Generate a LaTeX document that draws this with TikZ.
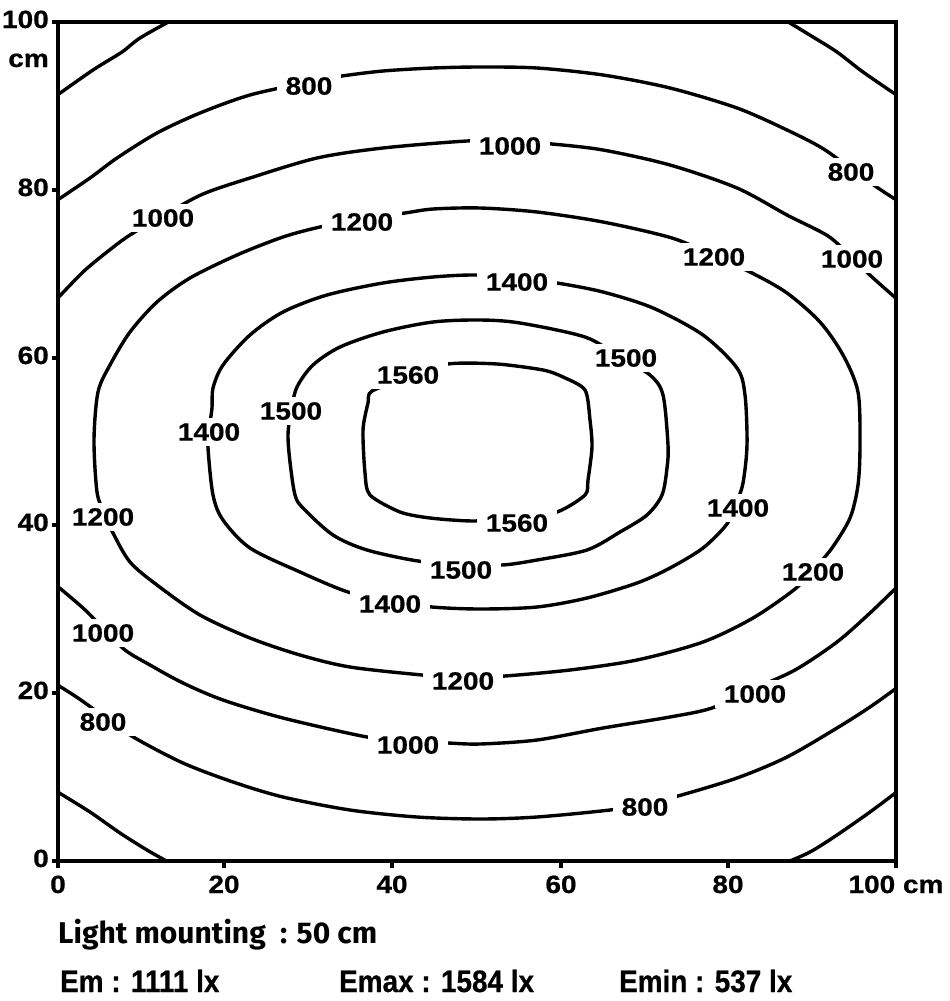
\documentclass[tikz,border=0pt]{standalone}
\usepackage{fontspec}
\newfontfamily\labfont{Liberation Sans}[BoldFeatures={FakeBold=0.6}]
\newfontfamily\lmfont{Fira Sans}
\begin{document}
\begin{tikzpicture}[x=1pt,y=-1pt,
  contour/.style={line width=3.4pt, line join=round, line cap=round},
  frameline/.style={line width=3.8pt},
  clab/.style={font=\labfont\bfseries\fontsize{25}{30}\selectfont, fill=white, inner xsep=8pt, inner ysep=5pt, xscale=1.12},
  ticklab/.style={font=\labfont\bfseries\fontsize{25}{30}\selectfont, inner sep=0pt, xscale=1.12},
  infolab/.style={font=\labfont\bfseries\fontsize{31}{36}\selectfont, inner sep=0pt, anchor=base west, xscale=0.9},
  lmlab/.style={font=\lmfont\bfseries\fontsize{30}{36}\selectfont, inner sep=0pt, anchor=base west}
]
\useasboundingbox (0,0) rectangle (950,1001);
\fill[white] (0,0) rectangle (950,1001);

\begin{scope}
\clip (58,22) rectangle (896,861);
% top corners
\draw[contour] plot[smooth, tension=0.5] coordinates {(56,96) (93,70) (122,52) (140,38) (172,20)};
\draw[contour] plot[smooth, tension=0.5] coordinates {(785,20) (813,37) (837,52) (863,72) (898,96)};
% 800 top
\draw[contour] plot[smooth, tension=0.5] coordinates {(56,201) (90,178) (117,158) (157,133) (200,113) (250,95) (309,82) (342,76) (383,71) (433,68) (480,67) (537,68) (603,75) (670,88) (737,108) (787,130) (822,148) (850,168) (878,188) (898,201)};
% 1000 top
\draw[contour] plot[smooth, tension=0.5] coordinates {(56,300) (83,272) (107,252) (130,235) (166,214) (203,194) (250,178) (317,158) (383,148) (467,141) (510,141) (552,144) (603,150) (670,165) (737,188) (787,215) (828,236) (850,256) (872,277) (898,300)};
% 1000 bottom
\draw[contour] plot[smooth, tension=0.5] coordinates {(56,585) (83,608) (103,628) (125,650) (150,665) (183,683) (223,700) (283,718) (367,737) (408,741) (448,743) (480,744) (537,740) (603,728) (670,717) (712,708) (753,689) (795,670) (837,642) (870,613) (898,586)};
% 800 bottom
\draw[contour] plot[smooth, tension=0.5] coordinates {(56,684) (78,698) (106,718) (135,738) (183,763) (233,782) (283,797) (350,810) (417,817) (480,819) (537,817) (610,810) (645,804) (678,796) (737,778) (787,757) (837,728) (870,707) (898,687)};
% bottom corners
\draw[contour] plot[smooth, tension=0.5] coordinates {(56,791) (90,812) (120,833) (147,850) (170,863)};
\draw[contour] plot[smooth, tension=0.5] coordinates {(898,791) (870,812) (837,835) (810,852) (785,863)};
\end{scope}

% 1200 loop
\draw[contour] plot[smooth cycle, tension=0.5] coordinates {(94,440) (98,392) (110,365) (130,332) (157,302) (190,278) (237,255) (283,237) (320,227) (362,219) (405,213) (433,209) (480,208) (537,212) (603,222) (672,238) (712,255) (752,273) (787,293) (820,322) (843,355) (858,392) (860,445) (858,485) (850,518) (832,548) (814,569) (795,589) (753,618) (703,642) (637,660) (570,670) (505,676) (463,678) (422,675) (350,667) (300,655) (250,638) (200,615) (157,585) (130,562) (113,533) (104,512) (97,492)};
% 1400 loop
\draw[contour] plot[smooth cycle, tension=0.5] coordinates {(213,495) (208,448) (209,430) (212,408) (213,388) (223,365) (250,335) (283,312) (327,295) (383,283) (433,277) (475,275) (517,278) (557,283) (603,292) (653,308) (703,335) (737,368) (745,395) (747,445) (743,483) (736,504) (727,524) (703,548) (670,568) (637,583) (587,598) (537,607) (480,609) (432,607) (390,601) (348,592) (300,572) (250,548) (223,520)};
% 1500 loop
\draw[contour] plot[smooth cycle, tension=0.5] coordinates {(297,387) (313,365) (340,347) (383,332) (433,322) (480,320) (520,323) (585,337) (618,356) (650,375) (663,395) (668,445) (667,468) (662,495) (647,515) (620,532) (587,550) (537,560) (502,565) (460,564) (418,561) (367,550) (333,535) (303,508) (295,495) (290,462) (288,435) (291,411)};
% 1560 loop
\draw[contour] plot[smooth cycle, tension=0.45] coordinates {(372,391) (368,403) (363,430) (365,473) (370,495) (400,512) (430,518) (473,521) (515,518) (557,512) (585,495) (588,480) (592,447) (590,420) (585,390) (563,377) (543,370) (497,364) (448,364) (410,377)};

% contour labels
\node[clab] (l800a) at (309,86) {800};
\node[clab] (l800b) at (851,172) {800};
\node[clab] (l1000a) at (163,218) {1000};
\node[clab] (l1000b) at (510,146) {1000};
\node[clab] (l1000c) at (852,259) {1000};
\node[clab] (l1200a) at (362,222) {1200};
\node[clab] (l1200b) at (714,257) {1200};
\node[clab] (l1200c) at (103,517) {1200};
\node[clab] (l1200d) at (463,681) {1200};
\node[clab] (l1200e) at (813,572) {1200};
\node[clab] (l1400a) at (517,282) {1400};
\node[clab] (l1400b) at (209,432) {1400};
\node[clab] (l1400c) at (738,508) {1400};
\node[clab] (l1400d) at (390,604) {1400};
\node[clab] (l1500a) at (626,358) {1500};
\node[clab] (l1500b) at (291,411) {1500};
\node[clab] (l1500c) at (461,570) {1500};
\node[clab] (l1560a) at (408,375) {1560};
\node[clab] (l1560b) at (517,523) {1560};
\node[clab] (l1000d) at (103,633) {1000};
\node[clab] (l1000e) at (408,745) {1000};
\node[clab] (l1000f) at (755,694) {1000};
\node[clab] (l800c) at (103,722) {800};
\node[clab] (l800d) at (645,807) {800};

% frame
\draw[frameline] (58,22) rectangle (896,861);
% ticks
\foreach \yy in {22,190,358,525,693,861} \draw[frameline] (52,\yy) -- (58,\yy);
\foreach \xx in {58,224,392,561,728,896} \draw[frameline] (\xx,861) -- (\xx,868);

% y labels
\node[ticklab, anchor=base east] (y100) at (49,28) {100};
\node[ticklab, anchor=base east] (ycm) at (49,67) {cm};
\node[ticklab, anchor=base east] (y80) at (49,196) {80};
\node[ticklab, anchor=base east] (y60) at (49,364) {60};
\node[ticklab, anchor=base east] (y40) at (49,531) {40};
\node[ticklab, anchor=base east] (y20) at (49,699) {20};
\node[ticklab, anchor=base east] (y0) at (49,867) {0};
% x labels
\node[ticklab, anchor=base] (x0) at (58,893) {0};
\node[ticklab, anchor=base] (x20) at (224,893) {20};
\node[ticklab, anchor=base] (x40) at (392,893) {40};
\node[ticklab, anchor=base] (x60) at (561,893) {60};
\node[ticklab, anchor=base] (x80) at (728,893) {80};
\node[ticklab, anchor=base] (x100) at (896,893) {100 cm};

% info text
\node[lmlab] (mount) at (58,943) {Light mounting\ \ : 50 cm};
\node[infolab] (em) at (60,992) {Em : 1111 lx};
\node[infolab] (emax) at (339,992) {Emax : 1584 lx};
\node[infolab] (emin) at (619,992) {Emin : 537 lx};
\end{tikzpicture}
\end{document}
